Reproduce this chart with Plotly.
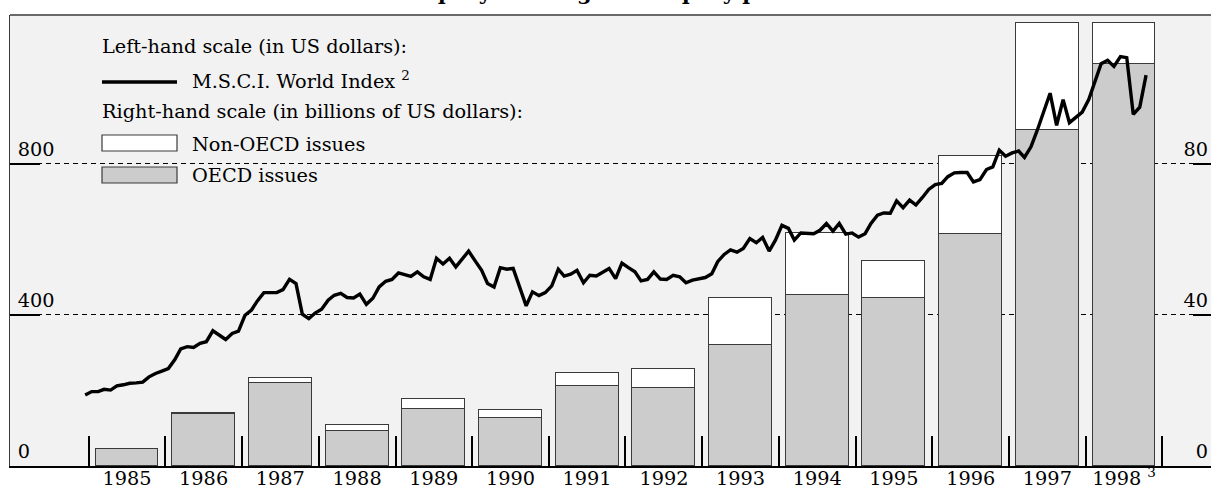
import datetime as dt
import plotly.graph_objects as go

# ---------------- data ----------------
years = list(range(1985, 1999))
year_labels = [str(y) for y in years[:-1]] + ["1998 <sup>3</sup>"]

# Right-hand scale, billions of US dollars
oecd_issues = [4.5, 13.8, 22.1, 9.3, 15.1, 12.7, 21.2, 20.6, 32.0, 45.4, 44.4, 61.3, 88.9, 106.3]
non_oecd_issues = [0.0, 0.3, 1.3, 1.6, 2.7, 2.0, 3.3, 5.1, 12.5, 16.3, 9.8, 20.8, 28.4, 11.0]

# Left-hand scale, US dollars: M.S.C.I. World Index, monthly from Dec 1984
msci_start = (1984, 12)
msci_world = [
    188, 197, 197, 203, 201, 212, 215, 219, 220, 222, 236, 245,
    251, 258, 282, 310, 316, 314, 325, 329, 358, 347, 335, 351,
    357, 399, 413, 437, 459, 459, 459, 467, 494, 483, 402, 390,
    405, 415, 439, 452, 457, 446, 445, 455, 428, 444, 474, 489,
    494, 511, 507, 502, 514, 501, 494, 550, 535, 550, 527, 547,
    569, 543, 518, 483, 474, 525, 521, 523, 473, 424, 461, 451,
    459, 477, 521, 503, 508, 518, 485, 505, 503, 514, 523, 496,
    537, 525, 514, 490, 494, 514, 495, 494, 505, 501, 485, 492,
    496, 499, 509, 541, 560, 572, 566, 576, 602, 591, 605, 569,
    598, 637, 629, 598, 617, 617, 615, 624, 642, 622, 642, 614,
    617, 606, 615, 642, 664, 670, 669, 702, 684, 704, 691, 711,
    732, 745, 748, 766, 776, 777, 777, 752, 758, 785, 792, 836,
    820, 829, 834, 817, 845, 889, 937, 987, 902, 970, 909, 924,
    937, 970, 1017, 1065, 1074, 1058, 1084, 1081, 931, 950, 1035,
]

left_ticks = [0, 400, 800]
right_ticks = [0, 40, 80]

# ---------------- helpers ----------------
W, H = 1211, 489
PL, PR, PT, PB = 10, 0, 15, 23
plot_w = W - PL - PR
plot_h = H - PT - PB


def px2x(px):
    return (px - PL) / plot_w


def py2y(py):
    return (H - PB - py) / plot_h


def month_dates(y, m, n):
    out = []
    for _ in range(n):
        out.append(f"{y:04d}-{m:02d}-15")
        m += 1
        if m > 12:
            m = 1
            y += 1
    return out


line_x = month_dates(msci_start[0], msci_start[1], len(msci_world))
bar_x = [f"{y}-07-02" for y in years]
YEAR_MS = 365.25 * 86400000
bar_width = 0.82 * YEAR_MS

px_per_year = 76.7
x0_px = 88.75  # pixel of 1 Jan 1985
base = dt.datetime(1985, 1, 1)
x_left = base - dt.timedelta(days=(x0_px - PL) / px_per_year * 365.25)
x_right = base + dt.timedelta(days=(W - PR - x0_px) / px_per_year * 365.25)

FONT = "DejaVu Serif"
BG = "#f2f2f2"
EDGE = "#3a3a3a"
FS = 19.3

fig = go.Figure()
fig.add_trace(go.Bar(
    x=bar_x, y=oecd_issues, width=bar_width, yaxis="y",
    marker=dict(color="#cccccc", line=dict(color=EDGE, width=1.2)),
    name="OECD issues", hoverinfo="skip"))
fig.add_trace(go.Bar(
    x=bar_x, y=non_oecd_issues, width=bar_width, yaxis="y",
    marker=dict(color="#ffffff", line=dict(color=EDGE, width=1.2)),
    name="Non-OECD issues", hoverinfo="skip"))
fig.add_trace(go.Scatter(
    x=line_x, y=msci_world, yaxis="y2", mode="lines",
    line=dict(color="black", width=3.4), name="M.S.C.I. World Index",
    hoverinfo="skip"))

tickfont = dict(family=FONT, size=FS, color="black")

fig.update_layout(
    width=W, height=H,
    margin=dict(l=PL, r=PR, t=PT, b=PB, pad=0, autoexpand=False),
    paper_bgcolor="white", plot_bgcolor=BG,
    barmode="stack", bargap=0, showlegend=False,
    font=dict(family=FONT, size=FS, color="black"),
    xaxis=dict(
        type="date", range=[x_left, x_right], automargin=False,
        tickmode="array", tickvals=bar_x, ticktext=year_labels,
        ticks="", ticklen=0, ticklabelstandoff=-6,
        tickfont=tickfont, showgrid=False, zeroline=False,
        showline=True, linecolor="black", linewidth=2,
        minor=dict(tickmode="array",
                   tickvals=[f"{y}-01-01" for y in range(1985, 2000)],
                   ticks="inside", ticklen=30, tickwidth=2, tickcolor="black",
                   showgrid=False),
    ),
    yaxis=dict(
        side="right", range=[0, 119.4], tickmode="array", tickvals=right_ticks,
        automargin=False,
        ticks="inside", ticklen=18, tickwidth=2, tickcolor="black",
        ticklabelposition="inside top", tickfont=tickfont,
        showgrid=True, gridcolor="black", gridwidth=1, griddash="5px,4px",
        zeroline=False, showline=False,
    ),
    yaxis2=dict(
        side="left", overlaying="y", range=[0, 1194], tickmode="array",
        automargin=False,
        tickvals=left_ticks, ticks="inside", ticklen=30, tickwidth=2,
        tickcolor="black", ticklabelposition="inside top", tickfont=tickfont,
        ticklabelstandoff=8,
        showgrid=False, zeroline=False, showline=True, linecolor=EDGE,
        linewidth=1.2,
    ),
)

shapes = [
    # legend backdrop interrupting the dashed grid line
    dict(type="rect", xref="paper", yref="paper", x0=px2x(80), x1=px2x(532),
         y0=py2y(198), y1=py2y(24), fillcolor=BG, line=dict(width=0),
         layer="between"),
    # frame top
    dict(type="line", xref="paper", yref="paper", x0=0, x1=1, y0=1, y1=1,
         line=dict(color=EDGE, width=1.5)),
    # legend keys
    dict(type="line", xref="paper", yref="paper", x0=px2x(102), x1=px2x(177),
         y0=py2y(82), y1=py2y(82), line=dict(color="black", width=3.4)),
    dict(type="rect", xref="paper", yref="paper", x0=px2x(102), x1=px2x(177),
         y0=py2y(151), y1=py2y(135), fillcolor="white",
         line=dict(color=EDGE, width=1.2)),
    dict(type="rect", xref="paper", yref="paper", x0=px2x(102), x1=px2x(177),
         y0=py2y(183), y1=py2y(167), fillcolor="#cccccc",
         line=dict(color=EDGE, width=1.2)),
]

legend_font = dict(family=FONT, size=FS, color="black")
annotations = [
    dict(text="<b>Equity offerings and equity prices<sup>1</sup></b>",
         xref="paper", yref="paper", x=px2x(413), y=py2y(7),
         xanchor="left", yanchor="bottom", showarrow=False,
         font=dict(family=FONT, size=21, color="black")),
    dict(text="Left-hand scale (in US dollars):", x=px2x(100), y=py2y(47)),
    dict(text="M.S.C.I. World Index <sup>2</sup>", x=px2x(190), y=py2y(80)),
    dict(text="Right-hand scale (in billions of US dollars):", x=px2x(100), y=py2y(111)),
    dict(text="Non-OECD issues", x=px2x(190), y=py2y(144)),
    dict(text="OECD issues", x=px2x(190), y=py2y(176)),
]
for a in annotations[1:]:
    a.update(xref="paper", yref="paper", xanchor="left", yanchor="middle",
             showarrow=False, font=legend_font)

fig.update_layout(shapes=shapes, annotations=annotations)
fig.write_html(
    "out.html",
    config={"displayModeBar": False},
    post_script="document.body.style.margin='0';document.body.style.overflow='hidden';",
)
